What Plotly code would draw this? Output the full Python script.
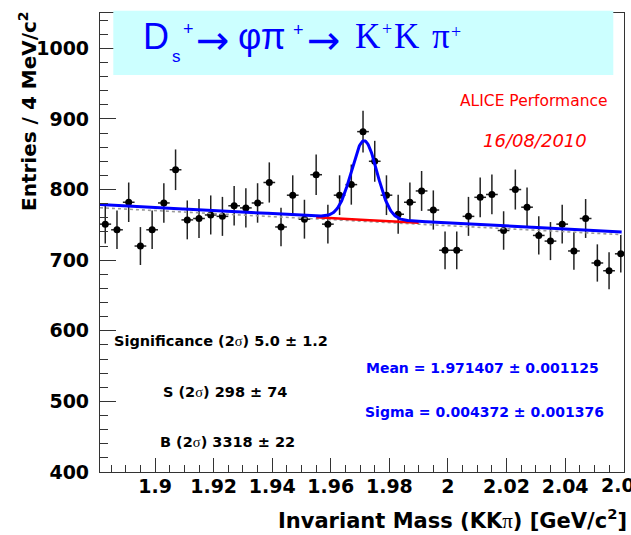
import numpy as np
import plotly.graph_objects as go

# ---------------- data ----------------
mass_centers = [1.883, 1.887, 1.891, 1.895, 1.899, 1.903, 1.907, 1.911, 1.915, 1.919,
                1.923, 1.927, 1.931, 1.935, 1.939, 1.943, 1.947, 1.951, 1.955, 1.959,
                1.963, 1.967, 1.971, 1.975, 1.979, 1.983, 1.987, 1.991, 1.995, 1.999,
                2.003, 2.007, 2.011, 2.015, 2.019, 2.023, 2.027, 2.031, 2.035, 2.039,
                2.043, 2.047, 2.051, 2.055, 2.059]
entries = [751, 743, 782, 720, 743, 781, 828, 757, 759, 764,
           762, 777, 774, 781, 810, 747, 792, 758, 821, 751,
           792, 807, 882, 840, 792, 765, 782, 798, 771, 714,
           714, 762, 789, 793, 742, 800, 775, 735, 727, 751,
           713, 759, 696, 685, 709]
entry_errors = [float(np.sqrt(n)) for n in entries]   # Poisson errors
bin_half_width = 0.002

# fit results
bkg_total = [779.0, -218.0]      # background: value at 1.88 GeV, slope per GeV
bkg_side = [777.0, -218.0]       # background drawn in red around the peak
bkg_prefit = [774.5, -214.0]     # grey dotted background
gauss_pars = [110.0, 1.971407, 0.004372]   # amplitude, mean, sigma
red_range = [1.955, 1.990]
curve_range = [1.8812, 2.0593]

x_tickvals = [1.9, 1.92, 1.94, 1.96, 1.98, 2.0, 2.02, 2.04, 2.06]
x_ticktext = ["1.9", "1.92", "1.94", "1.96", "1.98", "2", "2.02", "2.04", "2.06"]
y_tickvals = [400, 500, 600, 700, 800, 900, 1000]

# ---------------- geometry ----------------
L, R, T, B = 100, 624, 13, 472
W, H = R - L, B - T


def bkg(x, p):
    return p[0] + p[1] * (x - 1.88)


def gaus(x, p):
    return p[0] * np.exp(-0.5 * ((x - p[1]) / p[2]) ** 2)


xs = np.linspace(curve_range[0], curve_range[1], 800)
xr = np.linspace(red_range[0], red_range[1], 200)

fig = go.Figure()
fig.add_trace(go.Scatter(
    x=mass_centers, y=entries, mode="markers",
    marker=dict(color="black", size=7),
    error_y=dict(type="data", array=entry_errors, color="#222", thickness=1.5, width=0),
    error_x=dict(type="constant", value=bin_half_width, color="#222", thickness=1.5, width=0),
    showlegend=False, hoverinfo="x+y"))
fig.add_trace(go.Scatter(x=xs, y=bkg(xs, bkg_prefit), mode="lines",
                         line=dict(color="#9a9a9a", width=1.6, dash="dot"), showlegend=False))
fig.add_trace(go.Scatter(x=xr, y=bkg(xr, bkg_side), mode="lines",
                         line=dict(color="#ff0000", width=2.5), showlegend=False))
fig.add_trace(go.Scatter(x=xs, y=bkg(xs, bkg_total) + gaus(xs, gauss_pars), mode="lines",
                         line=dict(color="#0000ff", width=3), showlegend=False))


def ann(text, xp, yp, size, family="DejaVu Sans", color="black", weight="normal",
        style="normal", xanchor="center", yanchor="middle", textangle=0):
    return dict(text=text, x=(xp - L) / W, y=(B - yp) / H, xref="paper", yref="paper",
                showarrow=False, xanchor=xanchor, yanchor=yanchor, textangle=textangle,
                font=dict(family=family, size=size, color=color, weight=weight, style=style))


SERIF = "Liberation Serif"
ARIAL = "Liberation Sans"
DEJA = "DejaVu Sans"
sig = "<span style='font-family:Liberation Serif;font-weight:normal'>σ</span>"
annotations = [
    # decay channel
    ann("D", 156.2, 36.8, 36, ARIAL, "#0000ff"),
    ann("s", 176, 56.0, 17, ARIAL, "#0000ff"),
    ann("+", 188.5, 29, 18, ARIAL, "#0000ff"),
    ann("→", 213.3, 40, 40, DEJA, "#0000ff"),
    ann("φπ", 261.5, 36.5, 36, ARIAL, "#0000ff"),
    ann("+", 298.5, 30, 18, ARIAL, "#0000ff"),
    ann("→", 323.5, 40, 40, DEJA, "#0000ff"),
    ann("K", 367, 36.5, 35, SERIF, "#0000ff"),
    ann("+", 386.7, 29, 18, SERIF, "#0000ff"),
    ann("K", 406, 36.5, 35, SERIF, "#0000ff"),
    ann("π", 440.5, 36.5, 35, SERIF, "#0000ff"),
    ann("+", 456, 32, 18, SERIF, "#0000ff"),
    # labels
    ann("ALICE Performance", 533.8, 100.7, 15.5, color="#ff0000"),
    ann("16/08/2010", 535.3, 140, 18, color="#ff0000", style="italic"),
    ann(f"Significance (2{sig}) 5.0 ± 1.2", 221, 340.7, 14.5, weight="bold"),
    ann(f"S (2{sig}) 298 ± 74", 224.7, 391.7, 14.5, weight="bold"),
    ann(f"B (2{sig}) 3318 ± 22", 227.2, 441.7, 14.5, weight="bold"),
    ann("Mean = 1.971407 ± 0.001125", 482.2, 368.3, 14, color="#0000ff", weight="bold"),
    ann("Sigma = 0.004372 ± 0.001376", 484.2, 411.7, 14, color="#0000ff", weight="bold"),
    # last x tick label, cut by the picture edge as in the reference
    ann("2.06", 624, 484.5, 19, weight="bold"),
    # axis titles
    ann("Invariant Mass (KK<span style='font-family:Liberation Serif;font-weight:normal'>π</span>) [GeV/c<sup>2</sup>]",
        629, 519.4, 21, weight="bold", xanchor="right"),
    ann("Entries / 4 MeV/c<sup>2</sup>", 28, 9, 20, weight="bold", yanchor="top", textangle=-90),
]

axis_col = "#333333"
fig.update_layout(
    width=631, height=535,
    margin=dict(l=L, r=631 - R, t=T, b=535 - B, pad=0),
    paper_bgcolor="white", plot_bgcolor="white",
    showlegend=False,
    annotations=annotations,
    shapes=[dict(type="rect", xref="paper", yref="paper",
                 x0=(113.3 - L) / W, x1=(613.3 - L) / W,
                 y0=(B - 75) / H, y1=(B - 10.7) / H,
                 fillcolor="#ccffff", line=dict(width=0), layer="above")],
    xaxis=dict(range=[1.8812, 2.0601], tickvals=x_tickvals, ticktext=x_ticktext,
               ticks="inside", ticklen=14, tickwidth=1, tickcolor=axis_col,
               minor=dict(ticks="inside", ticklen=7, dtick=0.005, tick0=1.9, tickcolor=axis_col, showgrid=False),
               showline=True, linecolor=axis_col, linewidth=1.2, mirror=True,
               showgrid=False, zeroline=False, ticklabelstandoff=-3,
               tickfont=dict(family="DejaVu Sans", size=19, color="black", weight="bold")),
    yaxis=dict(range=[400, 1050], tickvals=y_tickvals,
               ticks="inside", ticklen=16, tickwidth=1, tickcolor=axis_col,
               minor=dict(ticks="inside", ticklen=8, dtick=20, tick0=400, tickcolor=axis_col, showgrid=False),
               showline=True, linecolor=axis_col, linewidth=1.2, mirror=True,
               showgrid=False, zeroline=False, ticklabelstandoff=6,
               tickfont=dict(family="DejaVu Sans", size=19, color="black", weight="bold")),
)

fig.write_html("out.html")
